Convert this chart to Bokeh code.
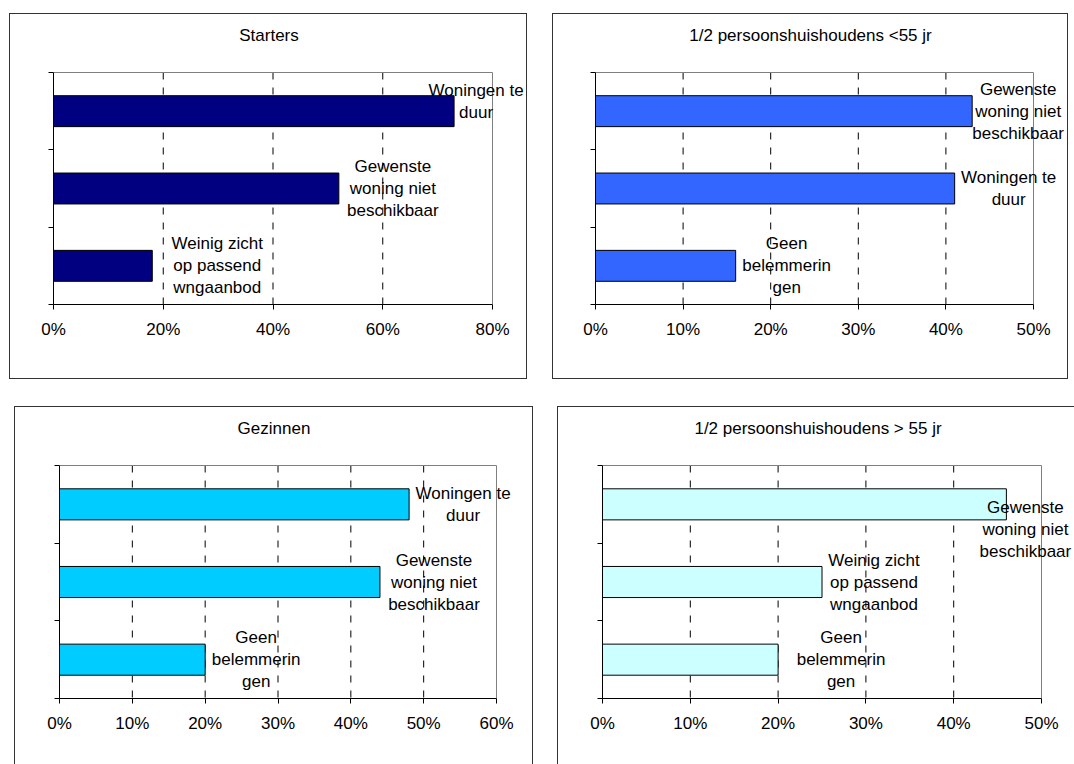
from bokeh.plotting import figure
from bokeh.layouts import column, row
from bokeh.models import ColumnDataSource, Label, FixedTicker, PrintfTickFormatter, Range1d
from bokeh.embed import file_html
from bokeh.resources import INLINE

FONT = "Liberation Sans"
LINE_H = 22  # pixel distance between wrapped label lines

# --- data -------------------------------------------------------------
starters_title = "Starters"
starters_cats = ["Woningen te\nduur", "Gewenste\nwoning niet\nbeschikbaar", "Weinig zicht\nop passend\nwngaanbod"]
starters_vals = [73, 52, 18]
starters_ticks = [0, 20, 40, 60, 80]

jong_title = "1/2 persoonshuishoudens <55 jr"
jong_cats = ["Gewenste\nwoning niet\nbeschikbaar", "Woningen te\nduur", "Geen\nbelemmerin\ngen"]
jong_vals = [43, 41, 16]
jong_ticks = [0, 10, 20, 30, 40, 50]

gezin_title = "Gezinnen"
gezin_cats = ["Woningen te\nduur", "Gewenste\nwoning niet\nbeschikbaar", "Geen\nbelemmerin\ngen"]
gezin_vals = [48, 44, 20]
gezin_ticks = [0, 10, 20, 30, 40, 50, 60]

oud_title = "1/2 persoonshuishoudens > 55 jr"
oud_cats = ["Gewenste\nwoning niet\nbeschikbaar", "Weinig zicht\nop passend\nwngaanbod", "Geen\nbelemmerin\ngen"]
oud_vals = [46, 25, 20]
oud_ticks = [0, 10, 20, 30, 40, 50]

# --- label nudges (pixels from the bar end) ---------------------------
starters_dx, starters_dy = [22, 54, 65], [10, 0, 0]
jong_dx, jong_dy = [46, 54, 51], [0, 0, 0]
gezin_dx, gezin_dy = [54, 54, 51], [0, 0, 0]
oud_dx, oud_dy = [19, 52, 63], [-25, 0, 0]

EDGE = {
    "l": "inset 1px 0 0 #333",
    "r": "inset -1px 0 0 #333",
    "t": "inset 0 1px 0 #333",
    "b": "inset 0 -1px 0 #333",
}


def panel(title, cats, vals, ticks, color, dx, dy, size, inner, margin, edges):
    """One chart box: fixed outer size, plot area of `inner` pixels placed
    at `left` from the box edge and `bottom` above its lower edge. The
    frame reaches to the top and right edges of the box so that labels
    running past the plot area stay visible."""
    n = len(cats)
    w, h = size
    left, bottom, iw, ih = inner
    fw, fh = w - left, h - bottom
    xmax = ticks[-1]
    ypos = [n - i - 0.5 for i in range(n)]
    src = ColumnDataSource(dict(y=ypos, v=vals))

    p = figure(width=w, height=h, output_backend="svg", toolbar_location=None,
               x_range=Range1d(0, xmax * fw / iw), y_range=Range1d(0, n * fh / ih),
               min_border_left=left, min_border_right=0,
               min_border_top=0, min_border_bottom=bottom,
               border_fill_color=None, background_fill_color=None,
               outline_line_color=None, margin=margin)
    p.styles = {"box-shadow": ", ".join(EDGE[e] for e in edges)}
    p.xgrid.visible = False
    p.ygrid.visible = False

    # dashed vertical gridlines, drawn from the top of the plot area down
    grid = ticks[1:-1]
    p.segment(x0=grid, y0=[n] * len(grid), x1=grid, y1=[0] * len(grid),
              line_color="black", line_width=1, line_dash="7 8")

    # grey top and right edge of the plot area
    p.line(x=[0, xmax, xmax], y=[n, n, 0], line_color="#808080", line_width=1)

    p.hbar(y="y", left=0, right="v", height=0.4, source=src,
           fill_color=color, line_color="black", line_width=1)

    # category labels next to the bar ends, one Label per wrapped line
    for cat, v, y, ox, oy in zip(cats, vals, ypos, dx, dy):
        lines = cat.split("\n")
        k = len(lines)
        for j, line in enumerate(lines):
            p.add_layout(Label(x=v, y=y, text=line,
                               x_offset=ox, y_offset=oy + ((k - 1) / 2 - j) * LINE_H,
                               text_align="center", text_baseline="middle",
                               text_font=FONT, text_font_size="17px",
                               text_color="black"))

    # chart title, centred above the plot area
    p.add_layout(Label(x=xmax / 2, y=n, text=title, x_offset=-4, y_offset=37,
                       text_align="center", text_baseline="middle",
                       text_font=FONT, text_font_size="17px", text_color="black"))

    xa = p.xaxis[0]
    xa.bounds = (0, xmax)
    xa.ticker = FixedTicker(ticks=ticks)
    xa.formatter = PrintfTickFormatter(format="%d%%")
    xa.axis_line_color = "black"
    xa.major_tick_line_color = "black"
    xa.major_tick_out = 5
    xa.major_tick_in = 0
    xa.minor_tick_line_color = None
    xa.major_label_standoff = 10
    xa.major_label_text_font = FONT
    xa.major_label_text_font_size = "17px"
    xa.major_label_text_color = "black"

    ya = p.yaxis[0]
    ya.bounds = (0, n)
    ya.ticker = FixedTicker(ticks=list(range(n + 1)))
    ya.major_label_overrides = {i: "" for i in range(n + 1)}
    ya.axis_line_color = "black"
    ya.major_tick_line_color = "black"
    ya.major_tick_out = 5
    ya.major_tick_in = 0
    ya.minor_tick_line_color = None
    return p


p1 = panel(starters_title, starters_cats, starters_vals, starters_ticks, "#000080",
           starters_dx, starters_dy, (518, 366), (44, 75, 439, 232), (13, 0, 0, 9), "lrtb")
p2 = panel(jong_title, jong_cats, jong_vals, jong_ticks, "#3366FF",
           jong_dx, jong_dy, (516, 366), (43, 75, 438, 232), (13, 0, 0, 25), "lrtb")
p3 = panel(gezin_title, gezin_cats, gezin_vals, gezin_ticks, "#00CCFF",
           gezin_dx, gezin_dy, (519, 358), (45, 66, 437, 233), (27, 0, 0, 14), "lrt")
p4 = panel(oud_title, oud_cats, oud_vals, oud_ticks, "#CCFFFF",
           oud_dx, oud_dy, (517, 358), (45, 66, 439, 233), (27, 0, 0, 24), "lt")

layout = column(row(p1, p2), row(p3, p4))

open("out.html", "w").write(file_html(layout, INLINE))
